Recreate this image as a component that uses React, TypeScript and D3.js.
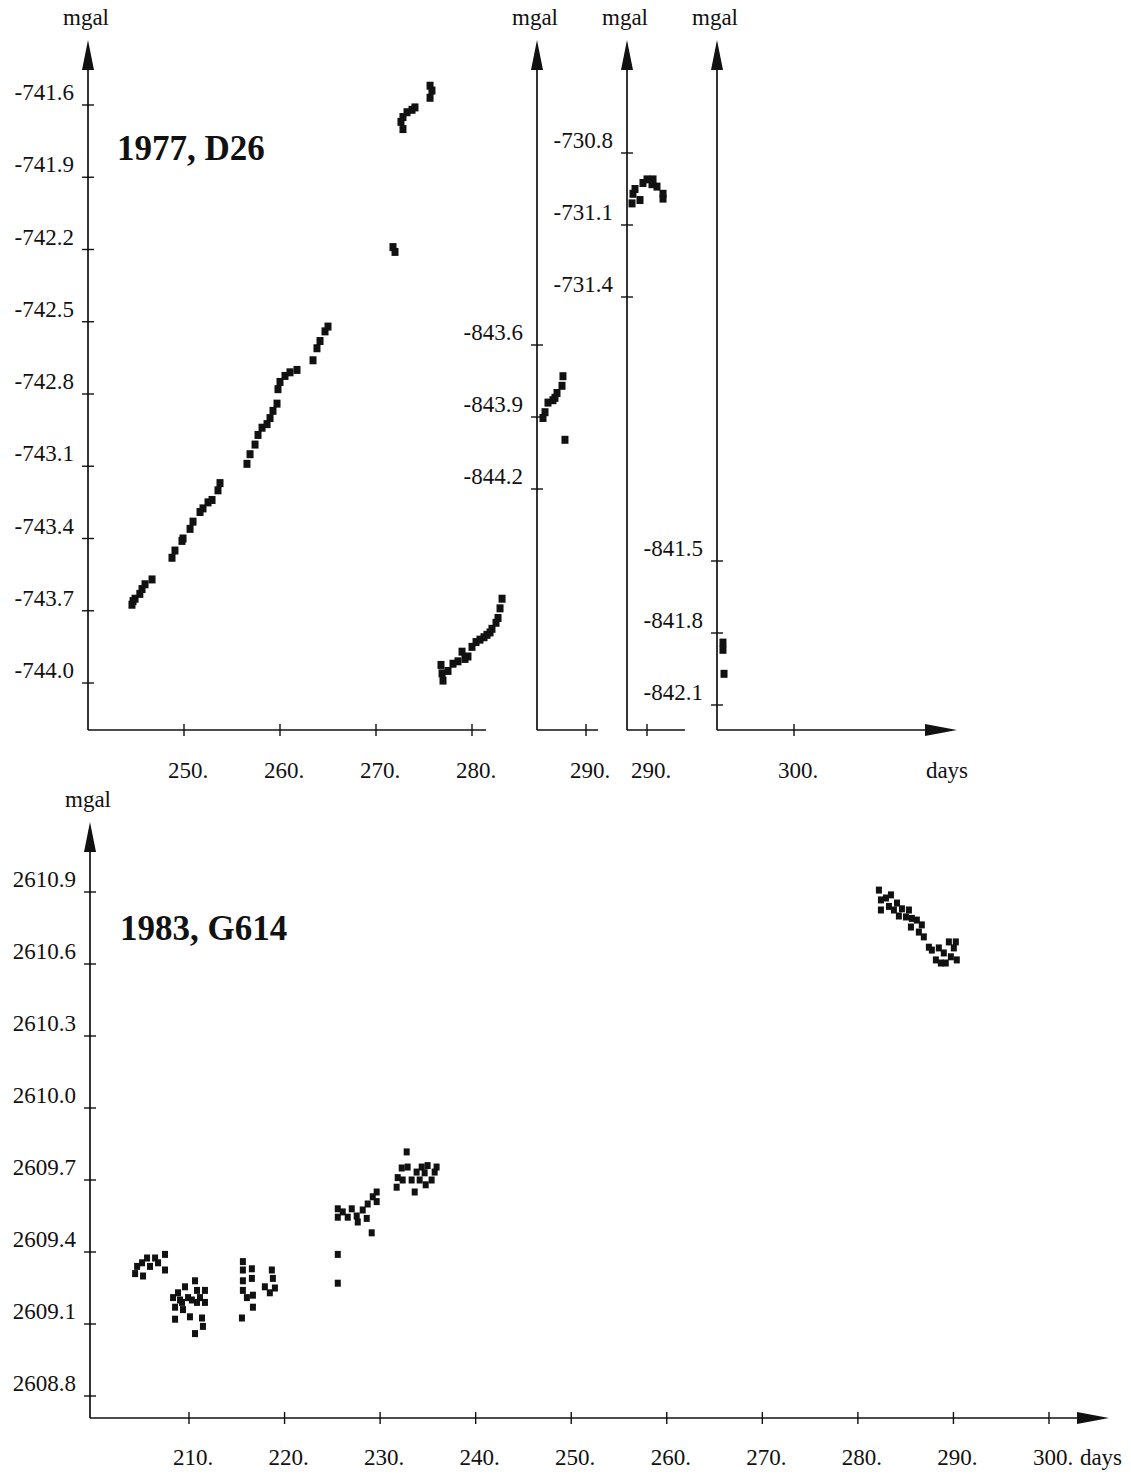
import React from 'react';
import * as d3 from 'd3';

const SERIF = '"Liberation Serif", "Times New Roman", Times, serif';

type Pt = [number, number]; // [day of year, mgal]

// 1977, gravimeter D26 — first run of readings
const d26RunA: Pt[] = [
  [244.58, -743.675], [244.69, -743.66], [244.9, -743.65], [245.4, -743.63], [245.63, -743.61],
  [245.94, -743.59], [246.67, -743.57], [248.75, -743.48], [249.06, -743.45], [249.79, -743.41],
  [249.9, -743.4], [250.63, -743.36], [250.94, -743.33], [251.67, -743.29], [251.98, -743.275],
  [252.5, -743.25], [252.92, -743.24], [253.54, -743.2], [253.75, -743.17], [256.56, -743.09],
  [256.88, -743.05], [257.4, -743.01], [257.71, -742.97], [258.13, -742.94], [258.65, -742.925],
  [258.96, -742.9], [259.27, -742.87], [259.69, -742.84], [259.79, -742.78], [260.0, -742.75],
  [260.52, -742.725], [261.04, -742.71], [261.77, -742.7], [263.44, -742.66], [263.85, -742.61],
  [264.17, -742.58], [264.69, -742.54], [265.0, -742.52], [271.77, -742.19], [271.98, -742.21],
  [272.6, -741.67], [272.81, -741.65], [272.81, -741.7], [273.23, -741.63], [273.75, -741.62],
  [274.06, -741.61], [275.63, -741.52], [275.63, -741.57], [275.83, -741.54],
  [276.77, -743.925], [276.88, -743.96], [276.98, -743.99], [277.5, -743.95], [278.02, -743.92],
  [278.54, -743.91], [278.96, -743.87], [279.27, -743.9], [279.58, -743.89], [280.0, -743.85],
  [280.42, -743.83], [280.83, -743.82], [281.25, -743.81], [281.56, -743.8], [281.88, -743.79],
  [282.08, -743.775], [282.5, -743.75], [282.71, -743.73], [282.92, -743.69], [283.13, -743.65],
];

// second run (offset level)
const d26RunB: Pt[] = [
  [285.52, -843.904], [285.73, -843.88], [286.04, -843.84], [286.56, -843.83], [286.77, -843.82],
  [286.98, -843.8], [287.5, -843.77], [287.6, -843.73], [287.81, -843.995],
];

// third run
const d26RunC: Pt[] = [
  [288.44, -731.01], [288.54, -730.97], [288.75, -730.95], [289.27, -730.996], [289.58, -730.925],
  [290.0, -730.91], [290.52, -730.93], [290.63, -730.91], [291.04, -730.94], [291.67, -730.99],
  [291.67, -730.97],
];

// fourth run
const d26RunD: Pt[] = [
  [292.6, -841.84], [292.6, -841.87], [292.71, -841.97],
];

const d26MgalTicksA = [-741.6, -741.9, -742.2, -742.5, -742.8, -743.1, -743.4, -743.7, -744.0];
const d26MgalTicksB = [-843.6, -843.9, -844.2];
const d26MgalTicksC = [-730.8, -731.1, -731.4];
const d26MgalTicksD = [-841.5, -841.8, -842.1];
const d26DayTicksA = [250, 260, 270, 280];
const d26DayTicksB = [290];
const d26DayTicksC = [290];
const d26DayTicksD = [300];

// 1983, gravimeter G614
const g614Readings: Pt[] = [
  [204.36, 2609.31], [204.57, 2609.34], [205.09, 2609.355], [205.19, 2609.3], [205.61, 2609.375],
  [205.92, 2609.34], [206.45, 2609.375], [206.76, 2609.355], [207.49, 2609.39], [207.49, 2609.325],
  [208.33, 2609.21], [208.54, 2609.17], [208.54, 2609.12], [208.85, 2609.23], [209.06, 2609.2],
  [209.27, 2609.19], [209.37, 2609.16], [209.58, 2609.255], [209.9, 2609.21], [210.1, 2609.13],
  [210.3, 2609.2], [210.63, 2609.28], [210.63, 2609.06], [210.84, 2609.24], [210.84, 2609.19],
  [211.15, 2609.21], [211.36, 2609.125], [211.46, 2609.09], [211.67, 2609.24], [211.67, 2609.19],
  [215.54, 2609.125], [215.64, 2609.36], [215.64, 2609.325], [215.64, 2609.28], [215.64, 2609.24],
  [216.06, 2609.21], [216.58, 2609.33], [216.58, 2609.29], [216.69, 2609.17], [216.69, 2609.22],
  [217.94, 2609.255], [218.46, 2609.23], [218.67, 2609.325], [218.78, 2609.29], [218.99, 2609.25],
  [225.57, 2609.39], [225.57, 2609.27], [225.57, 2609.58], [225.57, 2609.545], [226.09, 2609.567],
  [226.61, 2609.545], [227.03, 2609.58], [227.55, 2609.55], [227.66, 2609.525], [228.18, 2609.575],
  [228.6, 2609.54], [228.7, 2609.6], [229.12, 2609.48], [229.23, 2609.63], [229.64, 2609.65],
  [229.64, 2609.61],
  [231.73, 2609.67], [231.84, 2609.71], [232.26, 2609.75], [232.36, 2609.7], [232.78, 2609.817],
  [232.88, 2609.754], [233.3, 2609.7], [233.62, 2609.65], [233.82, 2609.733], [234.14, 2609.7],
  [234.35, 2609.754], [234.66, 2609.73], [234.77, 2609.68], [234.97, 2609.76], [235.39, 2609.7],
  [235.71, 2609.733], [235.91, 2609.754],
  [282.2, 2610.908], [282.41, 2610.867], [282.41, 2610.825], [282.94, 2610.875], [283.46, 2610.888],
  [283.25, 2610.84], [283.77, 2610.825], [284.09, 2610.854], [284.29, 2610.8], [284.61, 2610.83],
  [285.03, 2610.796], [285.34, 2610.825], [285.55, 2610.754], [285.65, 2610.79], [286.17, 2610.783],
  [286.38, 2610.733], [286.69, 2610.763], [286.9, 2610.713], [287.43, 2610.67], [287.74, 2610.658],
  [288.16, 2610.617], [288.47, 2610.667], [288.68, 2610.604], [288.99, 2610.646], [289.2, 2610.604],
  [289.52, 2610.692], [289.73, 2610.63], [290.04, 2610.667], [290.25, 2610.692], [290.35, 2610.617],
];
const g614MgalTicks = [2610.9, 2610.6, 2610.3, 2610.0, 2609.7, 2609.4, 2609.1, 2608.8];
const g614DayTicks = [210, 220, 230, 240, 250, 260, 270, 280, 290, 300];

interface PanelProps {
  data: Pt[];
  mgalTicks: number[];
  dayTicks: number[];
  x: d3.ScaleLinear<number, number>;
  y: d3.ScaleLinear<number, number>;
  left: number;
  right: number;
  base: number;
  top: number;
  arrowRight?: boolean;
  labelDy: number;
  markW: number;
  markH: number;
}

const INK = '#111';

function Panel(p: PanelProps) {
  const { x, y, left, right, base, top } = p;
  return (
    <g>
      {/* mgal axis with arrow */}
      <line x1={left} y1={base} x2={left} y2={top + 26} stroke={INK} strokeWidth={1.7} />
      <path d={`M${left},${top} L${left - 6},${top + 30} L${left + 6},${top + 30} Z`} fill={INK} />
      <text x={left - 2} y={top - 15} fontFamily={SERIF} fontSize={23} textAnchor="middle" fill={INK}>mgal</text>
      {/* day axis */}
      <line x1={left} y1={base} x2={p.arrowRight ? right - 26 : right} y2={base} stroke={INK} strokeWidth={1.7} />
      {p.arrowRight && (
        <path d={`M${right},${base} L${right - 32},${base - 6} L${right - 32},${base + 6} Z`} fill={INK} />
      )}
      {p.mgalTicks.map((t) => (
        <g key={`m${t}`}>
          <line x1={left - 6} x2={left + 6} y1={y(t)} y2={y(t)} stroke={INK} strokeWidth={1.4} />
          <text x={left - 14} y={y(t) - 5} fontFamily={SERIF} fontSize={23} textAnchor="end" fill={INK}>
            {t.toFixed(1)}
          </text>
        </g>
      ))}
      {p.dayTicks.map((t) => (
        <g key={`d${t}`}>
          <line x1={x(t)} x2={x(t)} y1={base - 6} y2={base + 6} stroke={INK} strokeWidth={1.4} />
          <text x={x(t) + 4} y={base + p.labelDy} fontFamily={SERIF} fontSize={23} textAnchor="middle" fill={INK}>
            {`${t}.`}
          </text>
        </g>
      ))}
      {p.data.map(([d, v], i) => (
        <rect key={i} x={x(d) - p.markW / 2} y={y(v) - p.markH / 2} width={p.markW} height={p.markH} fill={INK} />
      ))}
    </g>
  );
}

export default function App() {
  const W = 1131;
  const H = 1474;
  const dayPx = 9.6;

  // top figure: four panels sharing the day scale, each with its own mgal offset
  const topBase = 730;
  const topArrow = 40;
  const dayScale = (day0: number, x0: number) =>
    d3.scaleLinear().domain([day0, day0 + 10]).range([x0, x0 + 10 * dayPx]);

  const xA = dayScale(250, 184);
  const yA = d3.scaleLinear().domain([-744.0, -741.6]).range([683, 105]);
  const xB = dayScale(290, 586);
  const yB = d3.scaleLinear().domain([-844.2, -843.6]).range([489, 345]);
  const xC = dayScale(290, 647);
  const yC = d3.scaleLinear().domain([-731.4, -730.8]).range([297, 153]);
  const xD = dayScale(300, 794);
  const yD = d3.scaleLinear().domain([-842.1, -841.5]).range([705, 561]);

  // bottom figure
  const xG = d3.scaleLinear().domain([210, 300]).range([189, 1049]);
  const yG = d3.scaleLinear().domain([2608.8, 2610.9]).range([1396, 892]);

  return (
    <svg
      width={W}
      height={H}
      viewBox={`0 0 ${W} ${H}`}
      style={{ position: 'absolute', left: 0, top: 0, background: '#fff' }}
    >
      <rect x={0} y={0} width={W} height={H} fill="#fff" />

      <Panel data={d26RunA} mgalTicks={d26MgalTicksA} dayTicks={d26DayTicksA} x={xA} y={yA}
        left={88} right={486} base={topBase} top={topArrow} labelDy={48} markW={7} markH={8} />
      <Panel data={d26RunB} mgalTicks={d26MgalTicksB} dayTicks={d26DayTicksB} x={xB} y={yB}
        left={537} right={598} base={topBase} top={topArrow} labelDy={48} markW={7} markH={8} />
      <Panel data={d26RunC} mgalTicks={d26MgalTicksC} dayTicks={d26DayTicksC} x={xC} y={yC}
        left={627} right={685} base={topBase} top={topArrow} labelDy={48} markW={7} markH={8} />
      <Panel data={d26RunD} mgalTicks={d26MgalTicksD} dayTicks={d26DayTicksD} x={xD} y={yD}
        left={717} right={957} base={topBase} top={topArrow} arrowRight labelDy={48} markW={7} markH={8} />
      <text x={947} y={topBase + 48} fontFamily={SERIF} fontSize={23} textAnchor="middle" fill={INK}>days</text>
      <text x={117} y={160} fontFamily={SERIF} fontSize={35} fontWeight="bold" fill={INK}>1977, D26</text>

      <Panel data={g614Readings} mgalTicks={g614MgalTicks} dayTicks={g614DayTicks} x={xG} y={yG}
        left={90} right={1109} base={1418} top={822} arrowRight labelDy={47} markW={6} markH={7} />
      <text x={1101} y={1465} fontFamily={SERIF} fontSize={23} textAnchor="middle" fill={INK}>days</text>
      <text x={120} y={940} fontFamily={SERIF} fontSize={35} fontWeight="bold" fill={INK}>1983, G614</text>
    </svg>
  );
}
